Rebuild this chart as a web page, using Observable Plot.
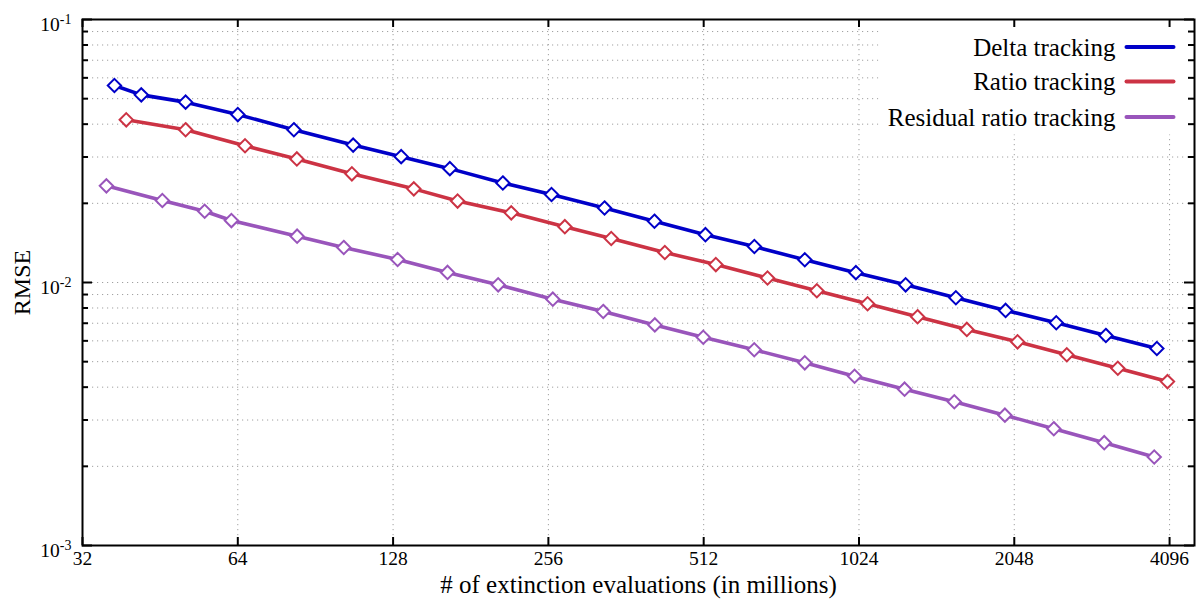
<!DOCTYPE html>
<html>
<head>
<meta charset="utf-8">
<script src="https://cdn.jsdelivr.net/npm/d3@7"></script>
<script src="https://cdn.jsdelivr.net/npm/@observablehq/plot@0.6"></script>
<style>
  html, body { margin: 0; padding: 0; background: white; }
  #chart { width: 1196px; height: 602px; }
</style>
</head>
<body>
<div id="chart"></div>
<script>
// ---- data ----
const seriesNames = ["Delta tracking", "Ratio tracking", "Residual ratio tracking"];
const seriesColors = ["#0000c8", "#cc3344", "#9955bb"];

const deltaX = [36.9, 41.6, 50.7, 64, 82.2, 107.1, 132.7, 164.9, 208.9, 259.6, 328.9, 411, 516, 642, 804, 1010, 1261, 1578, 1970, 2470, 3082, 3870];
const deltaY = [0.0561, 0.0517, 0.0485, 0.0435, 0.0381, 0.0333, 0.0301, 0.0271, 0.0239, 0.0216, 0.0192, 0.0171, 0.0152, 0.0137, 0.0122, 0.0109, 0.0098, 0.00875, 0.00783, 0.00703, 0.00629, 0.00561];

const ratioX = [38.9, 50.7, 66.1, 83.3, 106.5, 140.4, 170.7, 216.9, 275.5, 338.9, 430.5, 540.5, 680.8, 848.4, 1064, 1330, 1657, 2078, 2589, 3251, 4058];
const ratioY = [0.04155, 0.0381, 0.0331, 0.0295, 0.0259, 0.0227, 0.0204, 0.0184, 0.0163, 0.0147, 0.0130, 0.0117, 0.0104, 0.0093, 0.0083, 0.00741, 0.00663, 0.00595, 0.00531, 0.00472, 0.0042];

const residualX = [35.6, 45.7, 55.2, 62.2, 83.4, 102.7, 130.6, 163.2, 204.6, 261.1, 327, 411.7, 511, 641.6, 804, 1004, 1255, 1567, 1964, 2443, 3060, 3825];
const residualY = [0.02331, 0.0205, 0.01866, 0.0172, 0.015, 0.01359, 0.01223, 0.01092, 0.0098, 0.00864, 0.00776, 0.0069, 0.00619, 0.00555, 0.00495, 0.0044, 0.00393, 0.00352, 0.00313, 0.00278, 0.00246, 0.00217];

// tick values
const xTicks = [32, 64, 128, 256, 512, 1024, 2048, 4096];
const xGrid = [64, 128, 256, 512, 1024, 2048, 4096];
const yMajor = [0.001, 0.01, 0.1];
const yMinor = [0.002, 0.003, 0.004, 0.005, 0.006, 0.007, 0.008, 0.009,
                0.02, 0.03, 0.04, 0.05, 0.06, 0.07, 0.08, 0.09];
const xLabel = "# of extinction evaluations (in millions)";
const yLabel = "RMSE";

// ---- build table ----
const table = [];
[[deltaX, deltaY], [ratioX, ratioY], [residualX, residualY]].forEach(([xs, ys], i) => {
  xs.forEach((x, j) => table.push({series: seriesNames[i], x, y: ys[j]}));
});

// ---- layout ----
const width = 1196, height = 602;
const mL = 82, mR = 2, mT = 19, mB = 57;
const W = width - mL - mR, H = height - mT - mB;

const legendMarks = [];
const rowCenters = [27.5, 62, 97.5];
seriesNames.forEach((name, i) => {
  legendMarks.push(Plot.frame({
    fill: seriesColors[i], stroke: null, rx: 2,
    insetLeft: W - 70, insetRight: 19,
    insetTop: rowCenters[i] - 2, insetBottom: H - rowCenters[i] - 2
  }));
  legendMarks.push(Plot.text([name], {
    frameAnchor: "top-right", lineAnchor: "middle", dx: -79, dy: rowCenters[i] + 0.5,
    textAnchor: "end", fontSize: 25, fill: "black"
  }));
});

const chart = Plot.plot({
  width, height,
  marginLeft: mL, marginRight: mR, marginTop: mT, marginBottom: mB,
  style: {fontFamily: "'Liberation Serif', 'Times New Roman', serif", fontSize: "20px", background: "white", color: "black"},
  x: {type: "log", base: 2, domain: [32, 4578], axis: null},
  y: {type: "log", domain: [0.001, 0.1], axis: null},
  color: {domain: seriesNames, range: seriesColors},
  marks: [
    // grid
    Plot.ruleY(yMinor.concat([0.01]), {stroke: "#a0a0a0", strokeWidth: 1, strokeDasharray: "1.2,3.8"}),
    Plot.ruleX(xGrid, {stroke: "#a0a0a0", strokeWidth: 1, strokeDasharray: "1.2,3.8"}),
    // legend background
    Plot.frame({fill: "white", stroke: null, insetLeft: 796, insetTop: 3, insetRight: 2, insetBottom: 411}),
    // series
    Plot.line(table, {x: "x", y: "y", z: "series", stroke: "series", strokeWidth: 3.6, strokeLinejoin: "round"}),
    Plot.dot(table, {x: "x", y: "y", stroke: "series", fill: "white", symbol: "diamond2", r: 6, strokeWidth: 2}),
    // legend
    ...legendMarks,
    // tick marks (inward)
    Plot.ruleX(xTicks, {stroke: "black", strokeWidth: 2, insetTop: H - 8}),
    Plot.ruleX(xTicks, {stroke: "black", strokeWidth: 2, insetBottom: H - 8}),
    Plot.ruleY(yMajor, {stroke: "black", strokeWidth: 2, insetRight: W - 10}),
    Plot.ruleY(yMinor, {stroke: "black", strokeWidth: 2, insetRight: W - 6}),
    Plot.ruleY(yMajor, {stroke: "black", strokeWidth: 2, insetLeft: W - 10}),
    Plot.ruleY(yMinor, {stroke: "black", strokeWidth: 2, insetLeft: W - 6}),
    // frame
    Plot.frame({stroke: "black", strokeWidth: 2}),
    // tick labels
    Plot.text(xTicks, {x: d => d, frameAnchor: "bottom", lineAnchor: "middle", dy: 13.5,
      text: d => String(d), fontSize: 19.5, fill: "black"}),
    Plot.text(yMajor, {y: d => d, frameAnchor: "left", lineAnchor: "middle", dx: -11, dy: 5, textAnchor: "end",
      text: d => "10^" + Math.round(Math.log10(d)), fontSize: 19.5, fill: "black"}),
    // axis labels
    Plot.text([xLabel], {frameAnchor: "bottom", lineAnchor: "middle", textAnchor: "middle", dy: 39, fontSize: 25, fill: "black"}),
    Plot.text([yLabel], {frameAnchor: "left", lineAnchor: "middle", textAnchor: "middle", dx: -60, rotate: -90, fontSize: 24, fill: "black"})
  ]
});

// superscripts for the y tick labels
chart.querySelectorAll("text").forEach(t => {
  const m = /^10\^(-?\d+)$/.exec(t.textContent);
  if (m) {
    t.textContent = "10";
    const ts = document.createElementNS("http://www.w3.org/2000/svg", "tspan");
    ts.setAttribute("dy", "-7");
    ts.setAttribute("font-size", "14");
    ts.textContent = m[1];
    t.appendChild(ts);
  }
});

document.getElementById("chart").appendChild(chart);
</script>
</body>
</html>
